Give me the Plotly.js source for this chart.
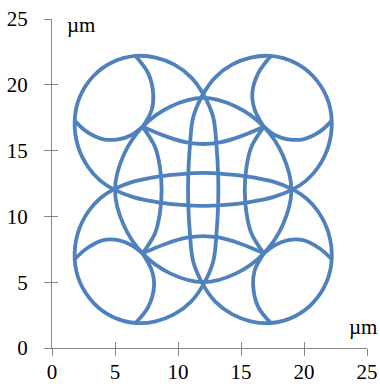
<!DOCTYPE html>
<html>
<head>
<meta charset="utf-8">
<script src="https://cdn.plot.ly/plotly-3.0.1.min.js"></script>
<style>
  body { margin: 0; background: #fff; }
  #plot { width: 380px; height: 388px; }
</style>
</head>
<body>
<div id="plot"></div>
<script>
// Outer loop: outlines of the four corner circles joined through the two lenses
// (starts at the top of the top-left circle and runs round once)
var loopX = [6.63, 8.23, 9.68, 11.04, 12.0,
  12.79, 13.06, 13.19, 13.19, 13.06, 12.79, 12.0,
  11.04, 9.68, 8.23, 6.63, 4.75, 3.31, 2.21, 1.8, 2.06, 2.88, 3.83, 4.9,
  6.45, 8.56, 10.3, 12.0, 13.7, 15.44, 17.55, 19.1,
  20.17, 21.12, 21.94, 22.2, 21.79, 20.69, 19.25, 17.37, 15.77, 14.32, 12.96, 12.0,
  11.21, 10.94, 10.81, 10.81, 10.94, 11.21, 12.0,
  12.96, 14.32, 15.77, 17.37, 19.25, 20.69, 21.79, 22.2, 21.94, 21.12, 20.17, 19.1,
  17.55, 15.44, 13.7, 12.0, 10.3, 8.56, 6.45, 4.9,
  3.83, 2.88, 2.06, 1.8, 2.21, 3.31, 4.75, 6.63];
var loopY = [22.19, 22.07, 21.55, 20.57, 19.3,
  17.55, 15.3, 13.05, 11.05, 8.8, 6.55, 4.8,
  3.53, 2.55, 2.03, 1.9, 2.4, 3.41, 5.01, 6.75, 8.76, 10.37, 11.38, 12.05,
  12.64, 13.05, 13.22, 13.3, 13.22, 13.05, 12.64, 12.05,
  11.38, 10.37, 8.76, 6.75, 5.01, 3.41, 2.4, 1.9, 2.03, 2.55, 3.53, 4.8,
  6.55, 8.8, 11.05, 13.05, 15.3, 17.55, 19.3,
  20.57, 21.55, 22.07, 22.19, 21.7, 20.69, 19.09, 17.28, 15.34, 13.73, 12.72, 12.05,
  11.46, 11.05, 10.88, 10.8, 10.88, 11.05, 11.46, 12.05,
  12.72, 13.73, 15.34, 17.28, 19.09, 20.69, 21.7, 22.19];

// Central circle
var ringX = [19.0, 18.33, 16.81, 14.62, 12.0, 9.38, 7.19, 5.67, 5.0, 5.67, 7.19, 9.38, 12.0, 14.62, 16.81, 18.33, 19.0];
var ringY = [12.0, 14.62, 16.81, 18.33, 19.0, 18.33, 16.81, 14.62, 12.0, 9.38, 7.19, 5.67, 5.0, 5.67, 7.19, 9.38, 12.0];

// Inner arcs of the corner circles (null separates arcs)
var cornerX = [6.63, 7.64, 8.03, 7.91, 7.19, null,
  1.8, 2.75, 4.07, 5.26, 6.32, 7.19, null,
  17.37, 16.36, 15.9, 16.09, 16.81, null,
  22.2, 21.25, 19.93, 18.74, 17.68, 16.81, null,
  6.63, 7.64, 8.1, 7.91, 7.19, null,
  1.8, 2.75, 4.07, 5.26, 6.32, 7.19, null,
  17.37, 16.36, 15.96, 16.09, 16.81, null,
  22.2, 21.25, 19.93, 18.74, 17.68, 16.81];
var cornerY = [22.19, 20.87, 19.35, 18.09, 16.81, null,
  17.28, 16.44, 15.86, 15.86, 16.19, 16.81, null,
  22.19, 20.87, 19.4, 18.09, 16.81, null,
  17.28, 16.44, 15.86, 15.86, 16.19, 16.81, null,
  1.9, 3.13, 4.7, 5.91, 7.19, null,
  6.75, 7.56, 8.2, 8.2, 7.81, 7.19, null,
  1.9, 3.13, 4.75, 5.91, 7.19, null,
  6.75, 7.56, 8.2, 8.2, 7.81, 7.19];

// Arcs joining the four diagonal nodes of the central circle
var innerX = [7.19, 9.1, 10.68, 12.0, 13.32, 14.91, 16.81, null,
  7.19, 9.1, 10.68, 12.0, 13.32, 14.91, 16.81, null,
  7.19, 8.17, 8.56, 8.7, 8.56, 8.17, 7.19, null,
  16.81, 15.83, 15.44, 15.3, 15.44, 15.83, 16.81];
var innerY = [16.81, 16.06, 15.62, 15.5, 15.62, 16.06, 16.81, null,
  7.19, 7.94, 8.38, 8.5, 8.38, 7.94, 7.19, null,
  16.81, 15.3, 13.78, 12.0, 10.22, 8.7, 7.19, null,
  16.81, 15.3, 13.78, 12.0, 10.22, 8.7, 7.19];

var tickVals = [0, 5, 10, 15, 20, 25];

var blue = '#4f81bd';
var lineStyle = { color: blue, width: 3.8, shape: 'spline', smoothing: 1 };

var data = [
  { x: loopX, y: loopY, mode: 'lines', type: 'scatter', line: lineStyle, hoverinfo: 'skip' },
  { x: ringX, y: ringY, mode: 'lines', type: 'scatter', line: lineStyle, hoverinfo: 'skip' },
  { x: cornerX, y: cornerY, mode: 'lines', type: 'scatter', line: lineStyle, connectgaps: false, hoverinfo: 'skip' },
  { x: innerX, y: innerY, mode: 'lines', type: 'scatter', line: lineStyle, connectgaps: false, hoverinfo: 'skip' },
  // empty trace so the overlay axes (inner half of the crossing ticks) get drawn
  { x: [], y: [], xaxis: 'x2', yaxis: 'y2', type: 'scatter', mode: 'markers' }
];

var axisFont = { family: 'Liberation Serif', size: 21, color: '#000' };
var gray = '#868686';

var layout = {
  width: 380,
  height: 388,
  margin: { l: 52, r: 13, t: 19, b: 40 },
  paper_bgcolor: '#fff',
  plot_bgcolor: '#fff',
  showlegend: false,
  font: axisFont,
  xaxis: {
    range: [0, 25], tickvals: tickVals, ticks: 'outside', ticklen: 7, tickcolor: gray, tickwidth: 1,
    showline: true, linecolor: gray, linewidth: 1, showgrid: false, zeroline: false,
    tickfont: axisFont, ticklabelstandoff: -2, fixedrange: true
  },
  yaxis: {
    range: [0, 25], tickvals: tickVals, ticks: 'outside', ticklen: 7, tickcolor: gray, tickwidth: 1,
    showline: true, linecolor: gray, linewidth: 1, showgrid: false, zeroline: false,
    tickfont: axisFont, ticklabelstandoff: 12, fixedrange: true
  },
  xaxis2: {
    overlaying: 'x', anchor: 'y2', side: 'bottom', range: [0, 25], tickvals: tickVals,
    ticks: 'inside', ticklen: 6, tickcolor: gray, tickwidth: 1, showticklabels: false,
    showline: false, showgrid: false, zeroline: false
  },
  yaxis2: {
    overlaying: 'y', anchor: 'x2', side: 'left', range: [0, 25], tickvals: tickVals,
    ticks: 'inside', ticklen: 6, tickcolor: gray, tickwidth: 1, showticklabels: false,
    showline: false, showgrid: false, zeroline: false
  },
  annotations: [
    { text: 'µm', xref: 'paper', yref: 'paper', x: 0.041, y: 0.983, xanchor: 'left', yanchor: 'middle',
      showarrow: false, font: axisFont },
    { text: 'µm', xref: 'paper', yref: 'paper', x: 0.936, y: 0.064, xanchor: 'left', yanchor: 'middle',
      showarrow: false, font: axisFont }
  ]
};

Plotly.newPlot('plot', data, layout, { displayModeBar: false, staticPlot: true });
</script>
</body>
</html>
